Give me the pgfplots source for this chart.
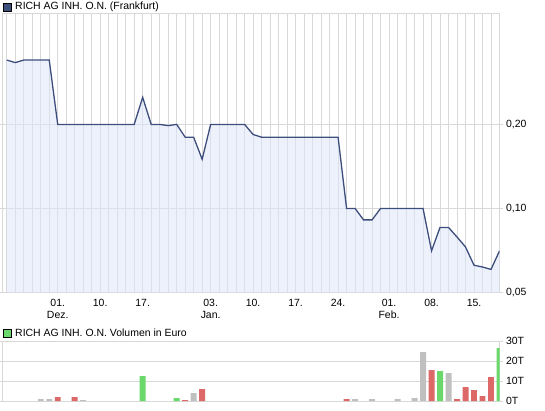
\documentclass[border=0pt]{standalone}
\usepackage{pgfplots}
\pgfplotsset{compat=1.18}
\usepackage{pgfplotstable}
\usepackage{fontspec}
\setmainfont{Liberation Sans}

\definecolor{kline}{RGB}{61,78,125}
\definecolor{kfill}{RGB}{222,230,248}
\definecolor{kgrid}{RGB}{216,216,216}
\definecolor{vgray}{RGB}{192,192,192}
\definecolor{vred}{RGB}{220,104,104}
\definecolor{vgreen}{RGB}{106,216,106}

% Kurs (Frankfurt), ein Wert je Handelstag
\pgfplotstableread{
k v
0 0.340
1 0.333
2 0.340
3 0.340
4 0.340
5 0.340
6 0.200
7 0.200
8 0.200
9 0.200
10 0.200
11 0.200
12 0.200
13 0.200
14 0.200
15 0.200
16 0.250
17 0.200
18 0.200
19 0.198
20 0.200
21 0.180
22 0.180
23 0.150
24 0.200
25 0.200
26 0.200
27 0.200
28 0.200
29 0.184
30 0.180
31 0.180
32 0.180
33 0.180
34 0.180
35 0.180
36 0.180
37 0.180
38 0.180
39 0.180
40 0.100
41 0.100
42 0.091
43 0.091
44 0.100
45 0.100
46 0.100
47 0.100
48 0.100
49 0.100
50 0.0705
51 0.0855
52 0.0855
53 0.079
54 0.0728
55 0.0626
56 0.0617
57 0.0605
58 0.0705
}\kurs

% Volumen in Tausend Euro
\pgfplotstableread{
k v
4 1.0
5 1.0
9 0.5
22 4.0
41 1.0
43 1.0
46 1.0
48 1.5
49 24.5
52 14.0
}\volgray
\pgfplotstableread{
k v
6 2.0
8 2.0
21 0.5
23 6.0
40 1.0
50 15.5
53 1.0
54 7.0
55 5.5
56 2.5
57 12.0
}\volred
\pgfplotstableread{
k v
16 12.5
20 1.5
51 15.0
58 26.5
}\volgreen

\pgfplotsset{
  chart/.style={
    scale only axis,
    width=497bp,
    xmin=-0.5, xmax=58,
    minor xtick={0,...,58},
    xminorgrids, xmajorgrids, ymajorgrids,
    grid style={kgrid, line width=1bp},
    minor grid style={kgrid, line width=1bp},
    axis line style={kgrid, line width=1bp},
    yticklabel pos=right,
    tick align=outside,
    major tick length=3bp,
    minor tick length=0pt,
    xtick style={draw=none},
    ytick style={kgrid, line width=1bp},
    /pgf/number format/assume math mode=true,
    ticklabel style={font=\fontsize{10.5}{12}\selectfont, text=black},
  },
}

\begin{document}
\begin{tikzpicture}[x=1bp, y=1bp]
\useasboundingbox (0,0) rectangle (545,410);

\begin{axis}[
    chart,
    at={(2.5bp,117.5bp)}, anchor=south west,
    height=279.2bp,
    ymode=log, log origin y=infty,
    ymin=0.05, ymax=0.5,
    ytick={0.05,0.1,0.2},
    yticklabels={{0,05},{0,10},{0,20}},
    xtick={6,11,16,24,29,34,39,45,50,55},
    xticklabels={{01.\\Dez.},{10.},{17.},{03.\\Jan.},{10.},{17.},{24.},{01.\\Feb.},{08.},{15.}},
    xticklabel style={align=center},
]
\addplot[draw=none, fill=kfill, fill opacity=0.55] table[x=k, y=v] {\kurs} \closedcycle;
\addplot[kline, line width=1.3bp, mark=none] table[x=k, y=v] {\kurs};
\end{axis}

\begin{axis}[
    chart,
    at={(2.5bp,9bp)}, anchor=south west,
    height=60bp,
    ymin=0, ymax=30,
    ytick={0,10,20,30},
    yticklabels={0T,10T,20T,30T},
    xtick=\empty,
]
\addplot[ybar, bar width=0.7, bar shift=0pt, draw=none, fill=vgray] table[x=k, y=v] {\volgray};
\addplot[ybar, bar width=0.7, bar shift=0pt, draw=none, fill=vred] table[x=k, y=v] {\volred};
\addplot[ybar, bar width=0.7, bar shift=0pt, draw=none, fill=vgreen] table[x=k, y=v] {\volgreen};
\end{axis}

\fill[kline, draw=black, line width=0.8bp] (3,399) rectangle (11,407);
\node[anchor=base west, inner sep=0pt, font=\fontsize{10.5}{12}\selectfont] at (15,400) {RICH AG INH. O.N. (Frankfurt)};
\fill[vgreen, draw=black, line width=0.8bp] (3,73) rectangle (11,81);
\node[anchor=base west, inner sep=0pt, font=\fontsize{10.5}{12}\selectfont] at (15,73.5) {RICH AG INH. O.N. Volumen in Euro};
\end{tikzpicture}
\end{document}
